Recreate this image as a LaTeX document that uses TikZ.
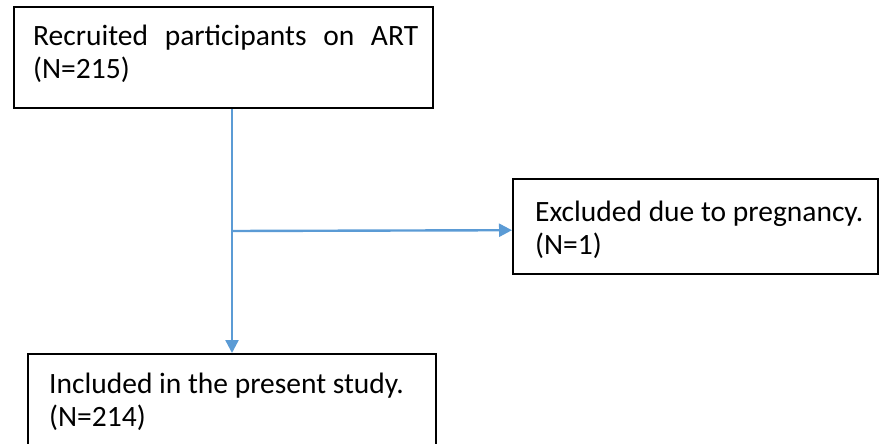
\documentclass[tikz,border=0pt]{standalone}
\usepackage{fontspec}
\setmainfont{Carlito}
\usetikzlibrary{arrows.meta}
\definecolor{arrowblue}{HTML}{5B9BD5}
\setlength{\lineskiplimit}{-100pt}
\begin{document}
\begin{tikzpicture}[x=1pt,y=-1pt,
  box/.style={draw=black, line width=2.4pt, inner sep=0pt, anchor=north west},
  txt/.style={anchor=north west, inner sep=0pt, align=left, font=\fontsize{29.5}{33}\selectfont},
  flow/.style={draw=arrowblue, line width=2.4pt, -{Triangle[length=13pt,width=13pt]}}]
\useasboundingbox (0,0) rectangle (880,444);
\clip (0,0) rectangle (880,444);
\node[box, minimum width=419pt, minimum height=101pt] (recruited) at (13,6) {};
\node[box, minimum width=365pt, minimum height=95pt] (excluded) at (512,178) {};
\node[box, line width=2pt, minimum width=408pt, minimum height=120pt] (included) at (27,353) {};
\node[txt] (t1) at (33,21)
  {\makebox[385pt][l]{\rule{0pt}{24pt}Recruited\hfill participants\hfill on\hfill ART}\\(N=215)};
\node[txt] (t2) at (535,197)
  {\rule{0pt}{24pt}Excluded due to pregnancy.\\(N=1)};
\node[txt] (t3) at (49,369)
  {\rule{0pt}{24pt}Included in the present study.\\(N=214)};
\coordinate (split) at (232,231);
\draw[flow] (recruited.south -| split) -- (included.north -| split);
\draw[flow] (split) -- ([yshift=-3.5pt]excluded.west);
\end{tikzpicture}
\end{document}
